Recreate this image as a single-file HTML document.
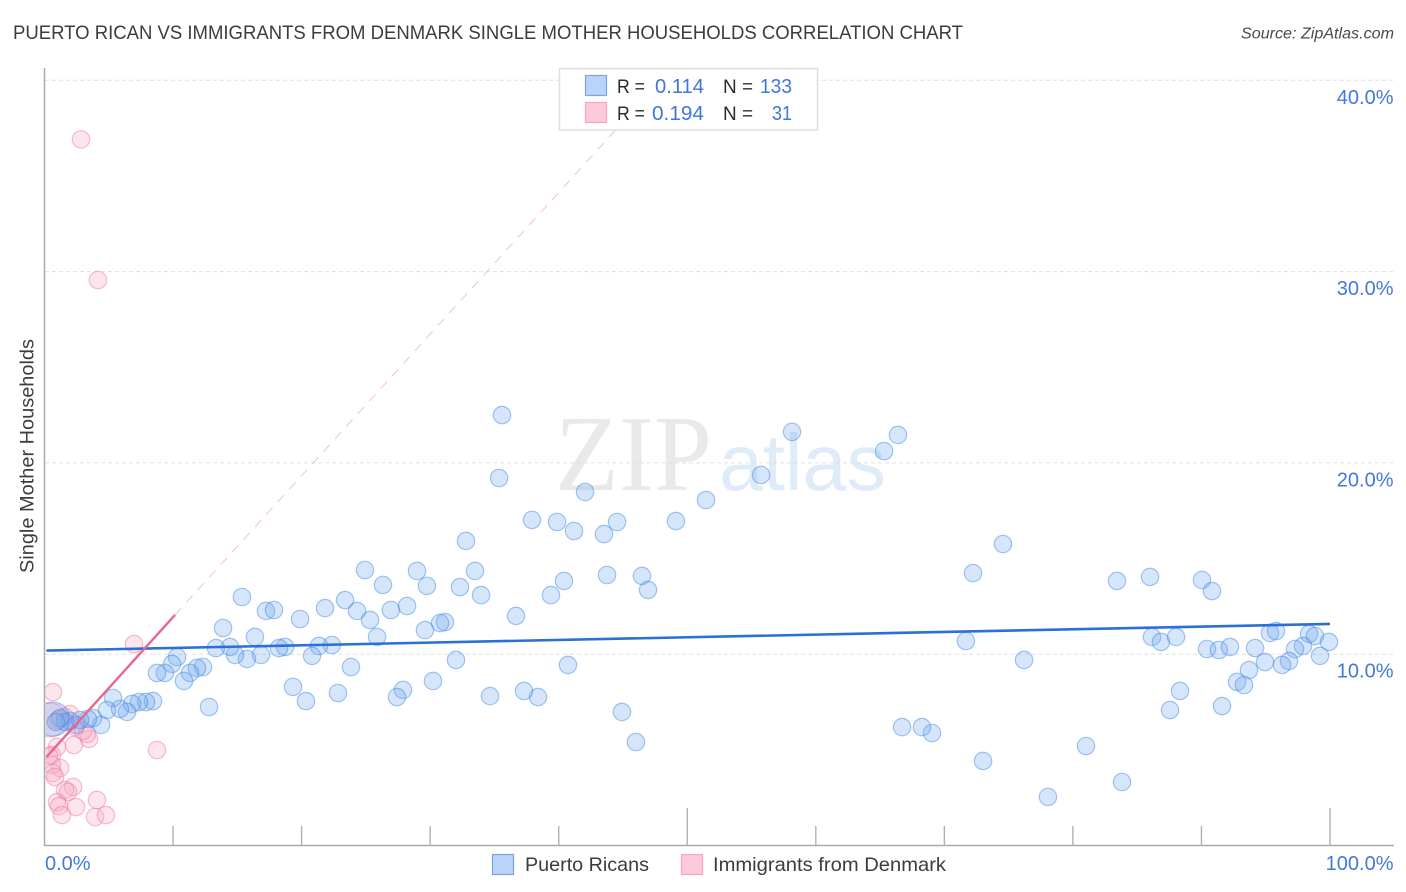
<!DOCTYPE html>
<html lang="en">
<head>
<meta charset="utf-8">
<title>Puerto Rican vs Immigrants from Denmark Single Mother Households Correlation Chart</title>
<style>
html,body{margin:0;padding:0;background:#fff;width:1406px;height:892px;overflow:hidden}
svg{display:block}
text{font-family:"Liberation Sans",sans-serif}
</style>
</head>
<body>
<svg id="chart" width="1406" height="892" viewBox="0 0 1406 892" xmlns="http://www.w3.org/2000/svg">
  <defs>
    <clipPath id="plot-clip"><rect x="45.5" y="60" width="1349" height="785"/></clipPath>
  </defs>
  <text x="13" y="39" font-size="19.5" fill="#3c3c3c" textLength="950" lengthAdjust="spacingAndGlyphs">PUERTO RICAN VS IMMIGRANTS FROM DENMARK SINGLE MOTHER HOUSEHOLDS CORRELATION CHART</text>
  <text x="1241" y="38.5" font-size="15.5" font-style="italic" fill="#4a4a4a" textLength="153" lengthAdjust="spacingAndGlyphs">Source: ZipAtlas.com</text>
  <g>
    <text x="555" y="490" font-size="108" fill="#e9e9e9" textLength="157" lengthAdjust="spacingAndGlyphs" style="font-family:'Liberation Serif',serif">ZIP</text>
    <text x="719" y="490" font-size="80" fill="#e0ebfa" textLength="167" lengthAdjust="spacingAndGlyphs">atlas</text>
  </g>
  <g id="grid"></g>
  <g id="marks" clip-path="url(#plot-clip)"></g>
  <g id="axes"></g>
  <text transform="translate(33.5,573) rotate(-90)" font-size="19" fill="#3c3c3c" textLength="234" lengthAdjust="spacingAndGlyphs">Single Mother Households</text>
  <g>
    <rect x="559.5" y="68.5" width="258" height="61.5" fill="#fff" fill-opacity="0.9" stroke="#ddd" stroke-width="1.4"/>
    <rect x="585.5" y="75.5" width="21" height="20" fill="#b9d3fa" stroke="#7aa5dd" stroke-width="1.2"/>
    <rect x="585.5" y="102.5" width="21" height="20" fill="#fdc8da" stroke="#f3a6c0" stroke-width="1.2"/>
    <text x="617" y="93" font-size="19.5" fill="#2c2c2c" textLength="28" lengthAdjust="spacingAndGlyphs">R =</text>
    <text x="655" y="93" font-size="20" fill="#3f76da" textLength="49" lengthAdjust="spacingAndGlyphs">0.114</text>
    <text x="723" y="93" font-size="19.5" fill="#2c2c2c" textLength="30" lengthAdjust="spacingAndGlyphs">N =</text>
    <text x="760" y="93" font-size="20" fill="#3f76da" textLength="32" lengthAdjust="spacingAndGlyphs">133</text>
    <text x="617" y="120" font-size="19.5" fill="#2c2c2c" textLength="28" lengthAdjust="spacingAndGlyphs">R =</text>
    <text x="652" y="120" font-size="20" fill="#3f76da" textLength="52" lengthAdjust="spacingAndGlyphs">0.194</text>
    <text x="723" y="120" font-size="19.5" fill="#2c2c2c" textLength="30" lengthAdjust="spacingAndGlyphs">N =</text>
    <text x="772" y="120" font-size="20" fill="#3f76da" textLength="20" lengthAdjust="spacingAndGlyphs">31</text>
  </g>
  <g>
    <rect x="492.5" y="854.5" width="21" height="20" fill="#b9d3fa" stroke="#7aa5dd" stroke-width="1.2"/>
    <text x="525" y="871" font-size="19.5" fill="#3c3c3c" textLength="124" lengthAdjust="spacingAndGlyphs">Puerto Ricans</text>
    <rect x="681.5" y="854.5" width="21" height="20" fill="#fdc8da" stroke="#f3a6c0" stroke-width="1.2"/>
    <text x="713" y="871" font-size="19.5" fill="#3c3c3c" textLength="233" lengthAdjust="spacingAndGlyphs">Immigrants from Denmark</text>
  </g>
</svg>
<script>
const xTickValues = [0,10,20,30,40,50,60,70,80,90,100];
const xMajorTicks = [50,100];
const xTickLabels = [[0,'0.0%'],[100,'100.0%']];
const yTickValues = [10,20,30,40];
const yTickLabels = ['10.0%','20.0%','30.0%','40.0%'];

const blueX = [35.59,35.36,58.15,66.39,65.31,55.74,51.46,42.05,49.12,37.92,39.87,44.54,41.19,43.52,32.79,74.56,24.93,28.98,33.49,43.76,46.48,72.23,83.43,86.00,90.04,90.82,40.41,26.33,29.75,32.32,33.96,39.40,46.95,15.36,23.38,28.20,26.95,24.31,21.82,17.23,17.85,19.88,25.32,13.89,36.68,31.15,30.77,29.60,25.87,16.37,86.15,88.02,86.85,90.43,91.36,92.22,94.17,95.33,95.80,98.37,98.83,99.92,97.90,97.28,99.22,96.81,96.27,94.94,93.70,92.77,93.31,88.33,87.55,91.60,83.82,71.68,76.20,81.02,78.06,73.01,69.04,68.26,66.71,46.01,44.92,40.72,38.39,37.30,34.66,32.01,30.22,27.89,27.42,23.84,22.83,20.34,19.33,12.80,22.36,21.35,20.81,18.71,18.24,16.84,15.75,14.82,14.43,13.34,12.33,11.86,11.32,10.85,10.31,9.92,9.37,8.75,8.44,7.90,7.35,6.81,6.42,5.87,5.33,4.86,4.40,3.77,3.38,2.76,2.45,1.98,1.59,1.21,0.89];
const blueY = [22.50,19.21,21.62,21.46,20.62,19.37,18.06,18.48,16.96,17.02,16.91,16.91,16.44,16.28,15.92,15.76,14.40,14.35,14.35,14.14,14.09,14.24,13.83,14.04,13.88,13.30,13.83,13.62,13.57,13.51,13.09,13.09,13.36,12.99,12.83,12.52,12.31,12.26,12.41,12.26,12.31,11.84,11.79,11.37,12.00,11.68,11.63,11.26,10.90,10.90,10.90,10.90,10.64,10.27,10.22,10.38,10.32,11.11,11.21,11.06,10.95,10.64,10.43,10.27,9.91,9.64,9.44,9.59,9.17,8.55,8.39,8.08,7.08,7.29,3.32,10.69,9.70,5.20,2.54,4.42,5.88,6.19,6.19,5.41,6.98,9.44,7.76,8.08,7.81,9.70,8.60,8.13,7.76,9.33,7.97,7.55,8.29,7.24,10.48,10.43,9.91,10.38,10.32,9.96,9.75,9.96,10.38,10.32,9.33,9.28,9.02,8.60,9.85,9.49,9.02,9.02,7.55,7.50,7.50,7.40,6.98,7.14,7.71,7.08,6.30,6.66,6.61,6.56,6.30,6.51,6.46,6.66,6.46];
const blueBubbleX = [0.66];
const blueBubbleY = [6.61];

const pinkX = [0.66,8.75,6.96,2.84,4.16,3.46,3.31,2.29,0.97,0.58,0.35,1.21,0.58,0.66,0.82,2.22,1.59,1.83,0.97,1.13,1.36,2.45,4.08,3.93,4.78,1.59,1.05,1.98,2.37,3.00];
const pinkY = [8.02,4.99,10.53,36.91,29.56,5.57,5.83,5.25,5.15,4.73,4.68,4.05,4.21,3.79,3.58,3.06,2.90,2.80,2.27,2.06,1.59,2.01,2.38,1.49,1.59,6.72,6.56,6.87,6.19,5.99];
const pinkBubbleX = [0.43];
const pinkBubbleY = [6.56];

const blueTrendX = [0.15,100];
const blueTrendY = [10.19,11.58];
const pinkTrendX = [0.15,10.15];
const pinkTrendY = [4.63,12.05];
const pinkExtendX = [10.15,47.96];
const pinkExtendY = [12.05,40.02];

const NS = 'http://www.w3.org/2000/svg';
const sx = v => 44.5 + v * 12.855;
const sy = v => 845.5 - v * 19.13;

function make(tag, attrs, parent) {
  const el = document.createElementNS(NS, tag);
  for (const k in attrs) el.setAttribute(k, attrs[k]);
  parent.appendChild(el);
  return el;
}

const grid = document.getElementById('grid');
const marks = document.getElementById('marks');
const axes = document.getElementById('axes');

yTickValues.forEach(v => {
  const line = make('line', {x1: 45, x2: 1394, y1: sy(v), y2: sy(v), stroke: '#e0e0e0', 'stroke-width': 1, 'stroke-dasharray': '4 3'}, grid);
  
  
});

function drawPoints(xs, ys, r, fill, stroke, name) {
  xs.forEach((x, i) => {
    const c = make('circle', {cx: sx(x), cy: sy(ys[i]), r: r, fill: fill, stroke: stroke, 'stroke-width': 1.2}, marks);
    
    
  });
}
const pinkFill = 'rgba(250,170,195,0.3)';
const pinkStroke = 'rgba(236,120,160,0.48)';
const blueFill = 'rgba(115,170,240,0.3)';
const blueStroke = 'rgba(60,130,225,0.45)';
drawPoints(pinkBubbleX, pinkBubbleY, 17, pinkFill, pinkStroke, 'point-denmark-cluster');
drawPoints(pinkX, pinkY, 8.7, pinkFill, pinkStroke, 'point-denmark');
drawPoints(blueBubbleX, blueBubbleY, 17, blueFill, blueStroke, 'point-puerto-rican-cluster');
drawPoints(blueX, blueY, 8.7, blueFill, blueStroke, 'point-puerto-rican');

function drawLine(xs, ys, attrs, name) {
  const l = make('line', Object.assign({x1: sx(xs[0]), y1: sy(ys[0]), x2: sx(xs[1]), y2: sy(ys[1])}, attrs), marks);
  
  
}
drawLine(pinkExtendX, pinkExtendY, {stroke: '#f0c0d0', 'stroke-width': 1, 'stroke-dasharray': '9 8'}, 'trend-denmark-extrapolated');
drawLine(blueTrendX, blueTrendY, {stroke: '#2a70d6', 'stroke-width': 2.6}, 'trend-puerto-ricans');
drawLine(pinkTrendX, pinkTrendY, {stroke: '#e8668f', 'stroke-width': 2.4}, 'trend-denmark');

const yAxisLine = make('line', {x1: 44.5, x2: 44.5, y1: 68, y2: 846, stroke: '#aaa', 'stroke-width': 1.5}, axes);


const xAxisLine = make('line', {x1: 44, x2: 1394, y1: 845.5, y2: 845.5, stroke: '#aaa', 'stroke-width': 1.5}, axes);



xTickValues.forEach(v => {
  if (v === 0) return;
  const top = xMajorTicks.includes(v) ? 808 : 826;
  const t = make('line', {x1: sx(v), x2: sx(v), y1: top, y2: 845.5, stroke: '#b0b0b0', 'stroke-width': 1.4}, axes);
  
  
});

yTickValues.forEach((v, i) => {
  const t = make('text', {x: 1393.5, y: sy(v) + 23.5, 'font-size': 20, fill: '#4379da', 'text-anchor': 'end'}, axes);
  
  
  t.textContent = yTickLabels[i];
});

xTickLabels.forEach(([v, label]) => {
  const t = make('text', {x: v === 0 ? 45 : 1393.5, y: 870, 'font-size': 20, fill: '#4379da', 'text-anchor': v === 0 ? 'start' : 'end'}, axes);
  
  
  t.textContent = label;
});
</script>
</body>
</html>
